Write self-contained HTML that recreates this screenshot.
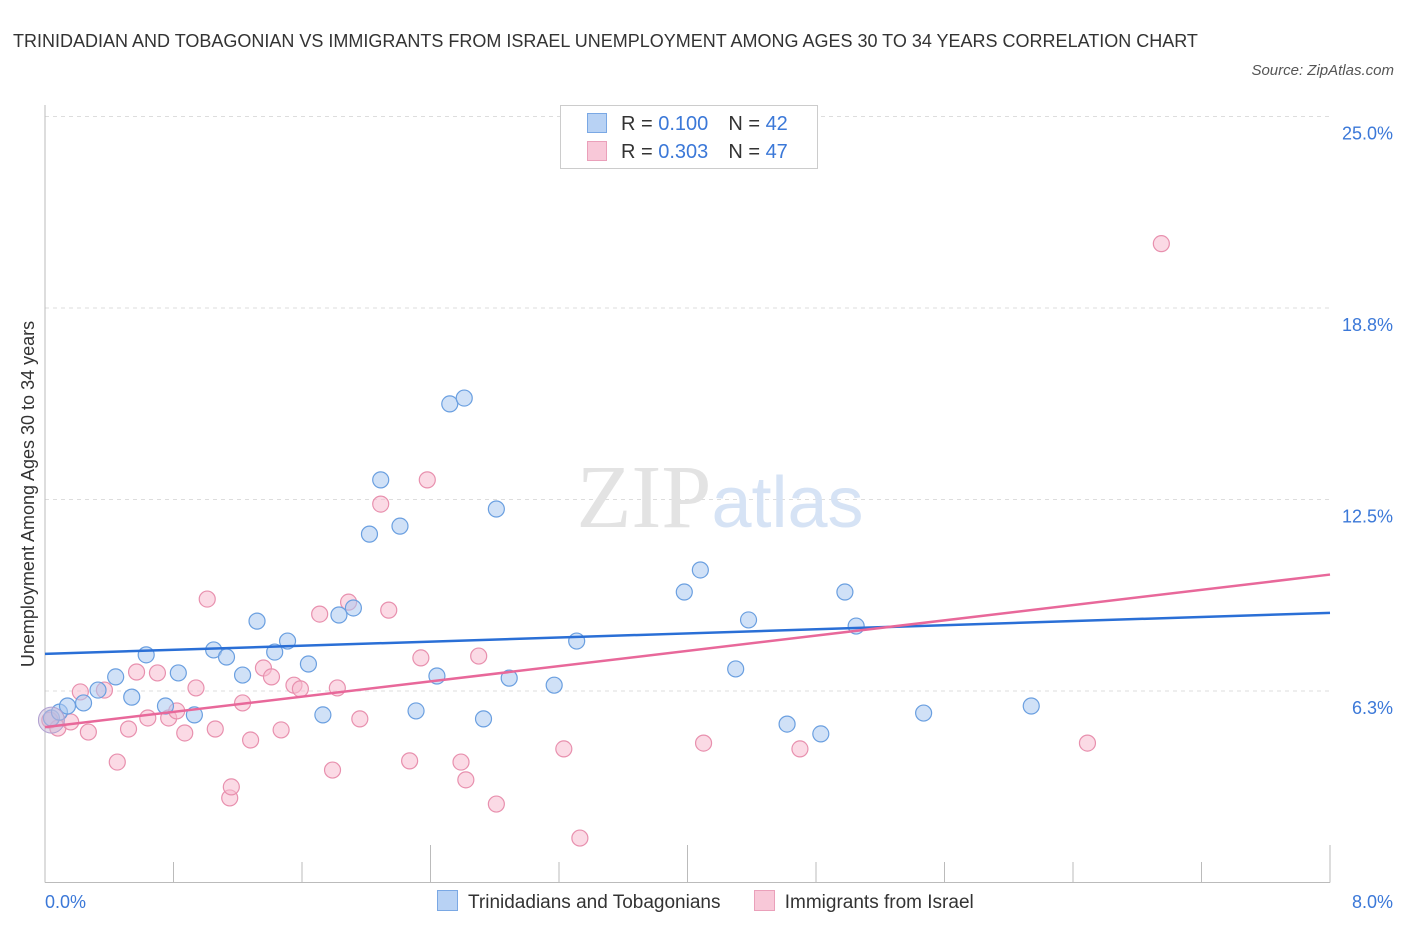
<!DOCTYPE html>
<html><head><meta charset="utf-8">
<style>
body{margin:0;background:#fff;font-family:"Liberation Sans",sans-serif;}
#wrap{position:relative;width:1406px;height:930px;overflow:hidden;}
.t{position:absolute;white-space:nowrap;}
</style></head>
<body>
<div id="wrap">
<div class="t" style="left:13px;top:22px;font-size:18px;color:#333;line-height:38px;width:1200px;white-space:normal;">TRINIDADIAN AND TOBAGONIAN VS IMMIGRANTS FROM ISRAEL UNEMPLOYMENT AMONG AGES 30 TO 34 YEARS CORRELATION CHART</div>
<div class="t" style="right:12px;top:62px;font-size:15px;font-style:italic;color:#555;">Source: ZipAtlas.com</div>
<svg id="chart" width="1406" height="930" style="position:absolute;left:0;top:0;"></svg>
</div>
<script>
const yTicks=[6.25,12.5,18.75,25];
const yTickLabels=["6.3%","12.5%","18.8%","25.0%"];
const xTickLabels=["0.0%","8.0%"];
const blueX=[0.04,0.09,0.14,0.24,0.33,0.44,0.54,0.63,0.75,0.83,0.93,1.05,1.13,1.23,1.32,1.43,1.51,1.64,1.73,1.83,1.92,2.02,2.09,2.21,2.31,2.44,2.52,2.61,2.73,2.81,2.89,3.17,3.31,3.98,4.08,4.30,4.38,4.62,4.83,4.98,5.05,5.47,6.14];
const blueY=[5.37,5.56,5.76,5.86,6.28,6.71,6.05,7.43,5.76,6.84,5.47,7.59,7.36,6.77,8.53,7.52,7.88,7.13,5.47,8.73,8.96,11.37,13.14,11.63,5.60,6.74,15.62,15.81,5.34,12.19,6.67,6.44,7.88,9.48,10.20,6.97,8.57,5.17,4.85,9.48,8.37,5.53,5.76];
const pinkX=[0.03,0.08,0.16,0.22,0.27,0.37,0.45,0.52,0.57,0.64,0.70,0.77,0.82,0.87,0.94,1.01,1.06,1.15,1.16,1.23,1.28,1.36,1.41,1.47,1.55,1.59,1.71,1.79,1.82,1.89,1.96,2.09,2.14,2.27,2.34,2.38,2.59,2.62,2.70,2.81,3.23,3.33,4.10,4.70,6.49,6.95];
const pinkY=[5.30,5.04,5.24,6.22,4.91,6.28,3.93,5.01,6.87,5.37,6.84,5.37,5.60,4.88,6.35,9.25,5.01,2.76,3.12,5.86,4.65,7.00,6.71,4.98,6.44,6.32,8.76,3.67,6.35,9.15,5.34,12.35,8.89,3.97,7.33,13.14,3.93,3.35,7.39,2.56,4.36,1.45,4.55,4.36,4.55,20.85];
const blueTrend=[7.46,8.80];
const pinkTrend=[5.07,10.05];
const X0=45,X1=1330,Y0=882.5,Y1=116.5;
const sx=v=>X0+(v/8)*(X1-X0);
const sy=v=>Y0-(v/25)*(Y0-Y1);
const svg=document.getElementById('chart');
const NS='http://www.w3.org/2000/svg';
function mk(tag,attrs){const e=document.createElementNS(NS,tag);for(const k in attrs)e.setAttribute(k,attrs[k]);svg.appendChild(e);return e;}
// gridlines
yTicks.forEach((t,i)=>{
 const g=mk('line',{x1:X0,x2:X1,y1:sy(t),y2:sy(t),stroke:'#ddd','stroke-dasharray':'4,4'});
 
 
 const l=mk('text',{x:1393,y:sy(t)+23,'text-anchor':'end','font-size':18,fill:'#3b78d8','font-family':'Liberation Sans'});
 l.textContent=yTickLabels[i];
 
 
});
// axes
const ya=mk('line',{x1:X0,x2:X0,y1:105,y2:Y0,stroke:'#bbb'});


const xa=mk('line',{x1:X0,x2:X1,y1:Y0,y2:Y0,stroke:'#bbb'});


for(let i=0;i<=10;i++){
 const x=sx(i*0.8);const long=(i===3||i===5||i===10);
 const tk=mk('line',{x1:x,x2:x,y1:long?845:862,y2:Y0,stroke:'#bbb'});
 
 
}
[[0,'start',45],[8,'end',1393]].forEach((d,i)=>{
 const l=mk('text',{x:d[2],y:908,'text-anchor':d[1],'font-size':18,fill:'#3b78d8','font-family':'Liberation Sans'});
 l.textContent=xTickLabels[i];
 
 
});
// watermark
const wm=mk('text',{x:720,y:527,'text-anchor':'middle','font-size':90,'font-family':'Liberation Serif',fill:'#e3e3e3'});
wm.innerHTML='ZIP<tspan font-family="Liberation Sans" font-size="72" fill="#d6e3f5">atlas</tspan>';


// y title
const yt=mk('text',{x:34,y:494,transform:'rotate(-90 34 494)','text-anchor':'middle','font-size':18,fill:'#333','font-family':'Liberation Sans'});
yt.textContent='Unemployment Among Ages 30 to 34 years';


// points
function pts(xs,ys,fill,stroke,name){xs.forEach((v,i)=>{
 const c=mk('circle',{cx:sx(v),cy:sy(ys[i]),r:8,fill:fill,'fill-opacity':0.55,stroke:stroke,'stroke-width':1.2});
 
 
});}
pts(pinkX,pinkY,'#f7bccf','#e890ae','pink-point');
pts(blueX,blueY,'#aac8f0','#6a9fe0','blue-point');
const big1=mk('circle',{cx:sx(0.04),cy:sy(5.3),r:13,fill:'#c8b8d8','fill-opacity':0.5,stroke:'#b0a0d0'});


// trends
const bt=mk('line',{x1:sx(0),y1:sy(blueTrend[0]),x2:sx(8),y2:sy(blueTrend[1]),stroke:'#2a6fd6','stroke-width':2.5});


const pt=mk('line',{x1:sx(0),y1:sy(pinkTrend[0]),x2:sx(8),y2:sy(pinkTrend[1]),stroke:'#e8689a','stroke-width':2.5});


</script>
<div class="t" style="left:560px;top:105px;width:256px;height:62px;border:1px solid #ccc;background:#fff;font-size:20px;">
 <div style="position:absolute;left:26px;top:7px;"><span style="display:inline-block;width:18px;height:18px;background:#b8d2f4;border:1px solid #7aa8e4;vertical-align:-3px;margin-right:14px;"></span><span style="color:#333">R = </span><span style="color:#3b78d8">0.100</span><span style="color:#333;margin-left:20px">N = </span><span style="color:#3b78d8">42</span></div>
 <div style="position:absolute;left:26px;top:35px;"><span style="display:inline-block;width:18px;height:18px;background:#f8c8d8;border:1px solid #eaa0ba;vertical-align:-3px;margin-right:14px;"></span><span style="color:#333">R = </span><span style="color:#3b78d8">0.303</span><span style="color:#333;margin-left:20px">N = </span><span style="color:#3b78d8">47</span></div>
</div>
<div class="t" style="left:437px;top:890px;font-size:19px;color:#333;">
 <span><span style="display:inline-block;width:19px;height:19px;background:#b8d2f4;border:1px solid #7aa8e4;vertical-align:-3px;margin-right:10px;"></span>Trinidadians and Tobagonians</span>
 <span style="margin-left:28px;"><span style="display:inline-block;width:19px;height:19px;background:#f8c8d8;border:1px solid #eaa0ba;vertical-align:-3px;margin-right:10px;"></span>Immigrants from Israel</span>
</div>
</body></html>
